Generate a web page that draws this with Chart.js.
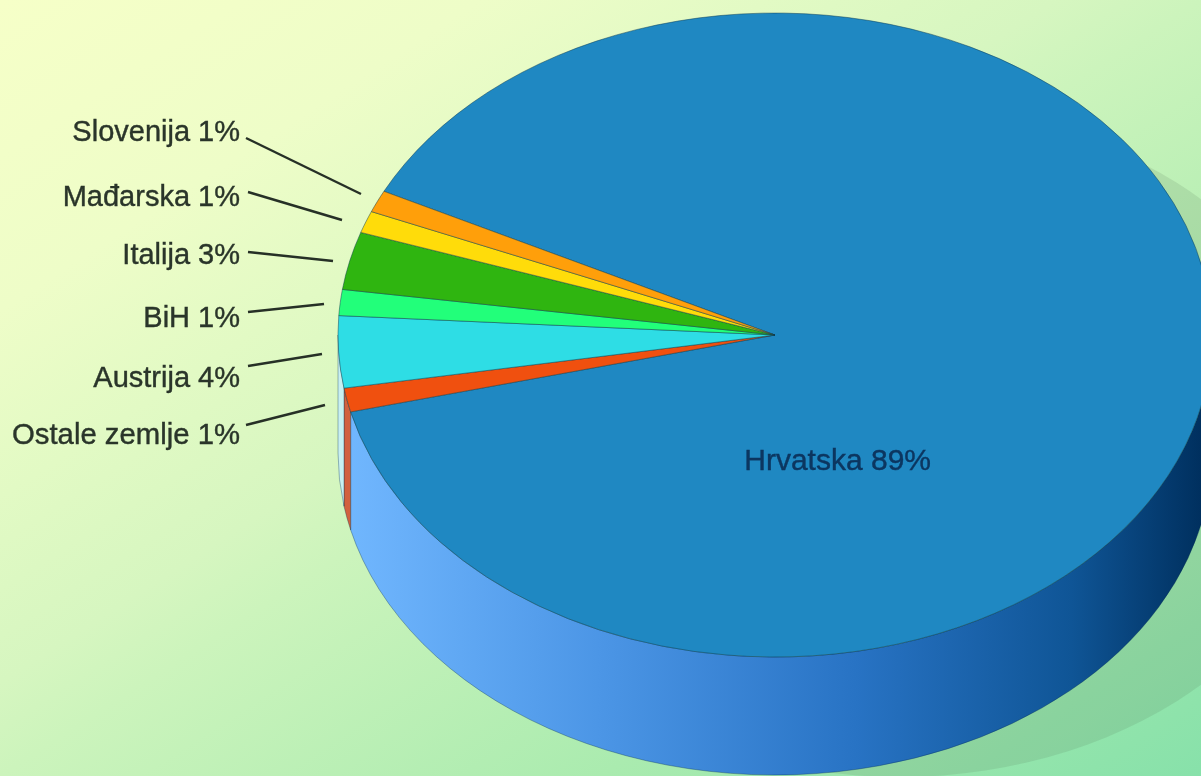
<!DOCTYPE html>
<html>
<head>
<meta charset="utf-8">
<style>
html,body{margin:0;padding:0;width:1201px;height:776px;overflow:hidden;background:#c8f0b8}
canvas{display:block;filter:blur(0.6px)}
</style>
<script src="https://cdn.jsdelivr.net/npm/chart.js@4"></script>
</head>
<body>
<canvas id="c" width="1201" height="776"></canvas>
<script>
const categories = ['Hrvatska','Ostale zemlje','Austrija','BiH','Italija','Mađarska','Slovenija'];
const values = [88.8,1.2,3.6,1.3,2.9,1.1,1.1];
const topColors = ['#1F88C2','#F0500F','#2EDDE5','#22FF7A','#2FB510','#FFDC0A','#FF9F0A'];
const wallColors = [null,'#D2603E','#C8F0F0','#1CC864','#258F0C','#C8AC08','#C87C08'];

// layout of the annotations (label anchor: right x, centre y; leader start and end)
const labelLayout = {
  'Slovenija':     {x:240,y:133,size:29,line:[246,138,361,194]},
  'Mađarska':      {x:240,y:198,size:29,line:[248,192,342,220]},
  'Italija':       {x:240,y:256,size:29,line:[248,252,333,261]},
  'BiH':           {x:240,y:319,size:29,line:[248,312,324,304]},
  'Austrija':      {x:240,y:379,size:29,line:[248,366,322,354]},
  'Ostale zemlje': {x:240,y:436,size:29.3,line:[246,425,325,405]},
  'Hrvatska':      {x:931,y:462,size:30,line:null}
};
const TILT = 322/437, DEPTH = 118;

const pie3d = {
  id:'pie3d',
  beforeDraw(chart){
    const {ctx,width:W,height:H} = chart;
    const L2 = W*W+H*H;
    const g = ctx.createLinearGradient(0,0,2*W*H*H/L2,2*W*W*H/L2);
    g.addColorStop(0,'#F6FFC8');
    g.addColorStop(0.2,'#EEFDC8');
    g.addColorStop(0.32,'#E2FAC4');
    g.addColorStop(0.44,'#D6F6C0');
    g.addColorStop(0.5,'#CCF4BC');
    g.addColorStop(0.75,'#AAEBAF');
    g.addColorStop(1,'#87E1AA');
    ctx.save();
    ctx.fillStyle = g;
    ctx.fillRect(0,0,W,H);
    ctx.restore();
  },
  beforeDatasetsDraw(chart){
    const {ctx} = chart;
    const arcs = chart.getDatasetMeta(0).data;
    const a = arcs[0], cx = a.x, cy = a.y, rx = a.outerRadius, ry = rx*TILT;
    ctx.save();
    // cast shadow
    ctx.fillStyle = 'rgba(70,90,70,0.13)';
    ctx.beginPath();
    ctx.ellipse(cx+125, cy+107, rx, ry+13, 0, 0, Math.PI*2);
    ctx.fill();
    // side wall
    const grad = ctx.createLinearGradient(cx-rx,0,1201,0);
    grad.addColorStop(0,'#72B8FF');
    grad.addColorStop(0.3,'#4C96E6');
    grad.addColorStop(0.6,'#2873C4');
    grad.addColorStop(0.85,'#0F5596');
    grad.addColorStop(1,'#00305F');
    arcs.forEach((arc,i)=>{
      for(let k=-1;k<=1;k++){
        const s = Math.max(arc.startAngle+k*2*Math.PI,0);
        const e = Math.min(arc.endAngle+k*2*Math.PI,Math.PI);
        if(e<=s) continue;
        ctx.beginPath();
        ctx.ellipse(cx,cy,rx,ry,0,s,e);
        ctx.ellipse(cx,cy+DEPTH,rx,ry,0,e,s,true);
        ctx.closePath();
        ctx.fillStyle = i===0 ? grad : wallColors[i];
        ctx.fill();
        ctx.strokeStyle = 'rgba(10,50,80,0.35)';
        ctx.lineWidth = 1;
        ctx.stroke();
      }
    });
    ctx.restore();
    // flatten the pie top into an ellipse
    ctx.save();
    ctx.translate(cx,cy);
    ctx.scale(1,TILT);
    ctx.translate(-cx,-cy);
  },
  afterDatasetsDraw(chart){
    const {ctx} = chart;
    ctx.restore();
    ctx.save();
    ctx.textAlign = 'right';
    ctx.textBaseline = 'middle';
    categories.forEach((name,i)=>{
      const l = labelLayout[name];
      const colour = name==='Hrvatska' ? '#0C3660' : '#2A352A';
      const text = name+' '+Math.round(values[i])+'%';
      ctx.font = l.size+'px "Liberation Sans", Arial, sans-serif';
      ctx.fillStyle = colour;
      ctx.fillText(text, l.x, l.y);
      ctx.strokeStyle = colour;
      ctx.lineWidth = 0.4;
      ctx.strokeText(text, l.x, l.y);
      if(l.line){
        ctx.strokeStyle = '#263026';
        ctx.lineWidth = 2.4;
        ctx.beginPath();
        ctx.moveTo(l.line[0],l.line[1]);
        ctx.lineTo(l.line[2],l.line[3]);
        ctx.stroke();
      }
    });
    ctx.restore();
  }
};

new Chart(document.getElementById('c'),{
  type:'pie',
  data:{
    labels:categories,
    datasets:[{
      data:values,
      backgroundColor:topColors,
      borderColor:'rgba(12,60,80,0.55)',
      borderWidth:1,
      clip:false
    }]
  },
  options:{
    responsive:false,
    animation:false,
    rotation:296.5,
    radius:437,
    layout:{padding:{left:349,right:0,top:0,bottom:106}},
    events:[],
    plugins:{legend:{display:false},tooltip:{enabled:false},title:{display:false}}
  },
  plugins:[pie3d]
});
</script>
</body>
</html>
